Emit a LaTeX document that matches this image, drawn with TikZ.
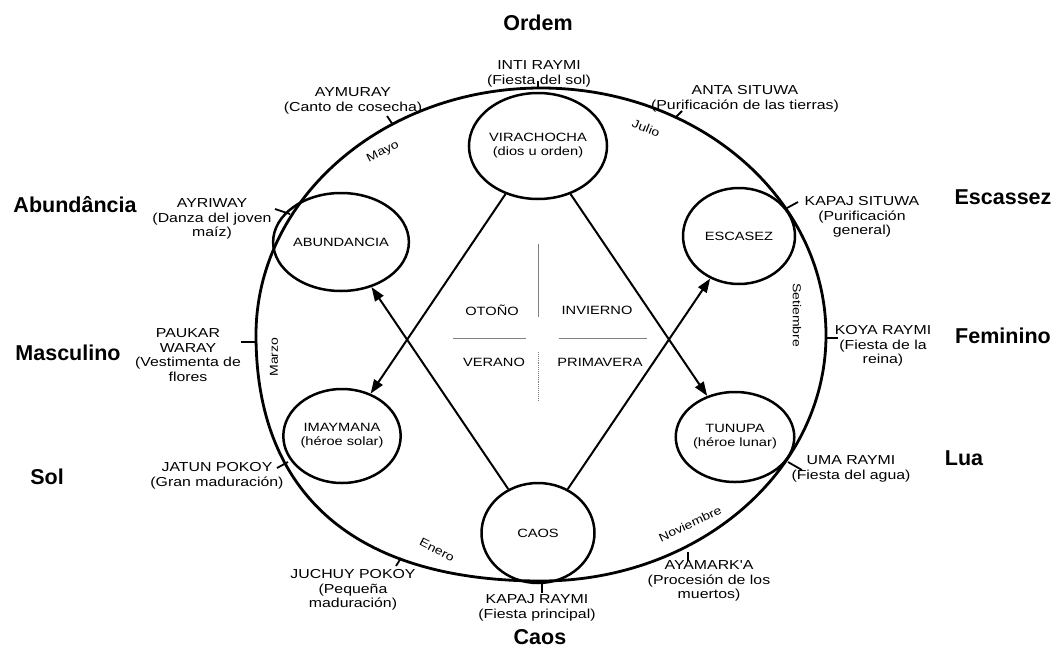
\documentclass[tikz,border=0pt]{standalone}
\usepackage{fontspec}
\setmainfont{Liberation Sans}
\newfontfamily\labfont{Liberation Sans}[FakeStretch=1.22]
\usetikzlibrary{shapes.geometric,arrows.meta}
\begin{document}
\begin{tikzpicture}[x=1pt,y=-1pt,
  circ/.style={draw, ellipse, line width=2.5pt, inner sep=0pt, align=center, font=\labfont\fontsize{12}{14}\selectfont},
  lab/.style={font=\labfont\fontsize{13}{14.5}\selectfont, align=center, inner sep=0pt},
  mon/.style={font=\labfont\fontsize{11.5}{13}\selectfont, inner sep=0pt},
  heading/.style={font=\bfseries\fontsize{21.5}{24}\selectfont, inner sep=0pt},
  seas/.style={font=\labfont\fontsize{12}{14}\selectfont, inner sep=0pt},
  arr/.style={line width=2pt, -{Triangle[length=14pt,width=10pt]}},
  tickmark/.style={line width=1.8pt},
  crossline/.style={line width=0.9pt, gray}
]
\useasboundingbox (0,0) rectangle (1055,656);

% big ellipse
\draw[line width=2.8pt] (541,88) .. controls (383.6,88) and (256,198.6) .. (256,335)
  .. controls (256,494.9) and (355.7,581) .. (541,581)
  .. controls (698.4,581) and (826,470.9) .. (826,335)
  .. controls (826,198.6) and (698.4,88) .. (541,88) -- cycle;

% circles
\node[circ, minimum width=110, minimum height=106] (vira) at (538,146) {VIRACHOCHA\\(dios u orden)};
\node[circ, minimum width=111, minimum height=98] (abun) at (341,242) {ABUNDANCIA};
\node[circ, minimum width=112, minimum height=96] (esca) at (739,236) {ESCASEZ};
\node[circ, minimum width=112, minimum height=94] (imay) at (342,436) {IMAYMANA\\(héroe solar)};
\node[circ, minimum width=116, minimum height=90] (tunu) at (735,437) {TUNUPA\\(héroe lunar)};
\node[circ, minimum width=113, minimum height=100] (caos) at (538,533) {CAOS};

% arrows
\draw[arr] (vira) -- (imay);
\draw[arr] (vira) -- (tunu);
\draw[arr] (caos) -- (abun);
\draw[arr] (caos) -- (esca);

% seasons cross
\coordinate (vt) at (538,244); \coordinate (vm) at (538,317);
\coordinate (vl) at (538,352); \coordinate (vb) at (538,400);
\coordinate (hl1) at (453,338); \coordinate (hl2) at (526,338);
\coordinate (hr1) at (559,338); \coordinate (hr2) at (647,338);
\draw[crossline] (vt) -- (vm);
\draw[crossline, densely dotted] (vl) -- (vb);
\draw[crossline] (hl1) -- (hl2);
\draw[crossline] (hr1) -- (hr2);
\node[seas] (oto) at (492,310) {OTOÑO};
\node[seas] (inv) at (597,310) {INVIERNO};
\node[seas] (ver) at (494,362) {VERANO};
\node[seas] (pri) at (600,362) {PRIMAVERA};

% headings
\node[heading] (h1) at (538,23) {Ordem};
\node[heading] (h2) at (75,205) {Abundância};
\node[heading] (h3) at (1003,197) {Escassez};
\node[heading] (h4) at (68,353) {Masculino};
\node[heading] (h5) at (1003,336) {Feminino};
\node[heading] (h6) at (47,477) {Sol};
\node[heading] (h7) at (964,458) {Lua};
\node[heading] (h8) at (540,637) {Caos};

% festival labels
\node[lab] (inti) at (539,74) {INTI RAYMI\\(Fiesta del sol)};
\node[lab] (aymu) at (353,101) {AYMURAY\\(Canto de cosecha)};
\node[lab] (anta) at (745,99) {ANTA SITUWA\\(Purificación de las tierras)};
\node[lab] (ayri) at (212,219) {AYRIWAY\\(Danza del joven\\maíz)};
\node[lab] (kaps) at (862,217) {KAPAJ SITUWA\\(Purificación\\general)};
\node[lab] (pauk) at (188,355) {PAUKAR\\WARAY\\(Vestimenta de\\flores};
\node[lab] (koya) at (883,346) {KOYA RAYMI\\(Fiesta de la\\reina)};
\node[lab] (jatu) at (217,476) {JATUN POKOY\\(Gran maduración)};
\node[lab] (uma) at (851,469) {UMA RAYMI\\(Fiesta del agua)};
\node[lab] (juch) at (353,590) {JUCHUY POKOY\\(Pequeña\\maduración)};
\node[lab] (ayam) at (709,581) {AYAMARK'A\\(Procesión de los\\muertos)};
\node[lab] (kapr) at (537,608) {KAPAJ RAYMI\\(Fiesta principal)};

% tick marks
\coordinate (t1a) at (538,88);  \coordinate (t1b) at (538,81);
\coordinate (t2a) at (393,125); \coordinate (t2b) at (387,116);
\coordinate (t3a) at (675,118); \coordinate (t3b) at (682,111);
\coordinate (t4a) at (290,214); \coordinate (t4b) at (275,209);
\coordinate (t5a) at (787,208); \coordinate (t5b) at (798,202);
\coordinate (t6a) at (256,342); \coordinate (t6b) at (241,342);
\coordinate (t7a) at (826,338); \coordinate (t7b) at (838,338);
\coordinate (t8a) at (288,462); \coordinate (t8b) at (277,468);
\coordinate (t9a) at (788,462); \coordinate (t9b) at (802,470);
\coordinate (t10a) at (401,558); \coordinate (t10b) at (396,566);
\coordinate (t11a) at (688,552); \coordinate (t11b) at (688,561);
\coordinate (t12a) at (542,582); \coordinate (t12b) at (542,593);
\foreach \i in {1,...,12} { \draw[tickmark] (t\i a) -- (t\i b); }

% months
\node[mon, rotate=27] (mayo) at (383,152) {Mayo};
\node[mon, rotate=-21] (julio) at (646,128) {Julio};
\node[mon, rotate=90] (marzo) at (274,357) {Marzo};
\node[mon, rotate=-90] (seti) at (797,315) {Setiembre};
\node[mon, rotate=-27] (enero) at (437,550) {Enero};
\node[mon, rotate=25] (novi) at (690,524) {Noviembre};
\end{tikzpicture}
\end{document}
